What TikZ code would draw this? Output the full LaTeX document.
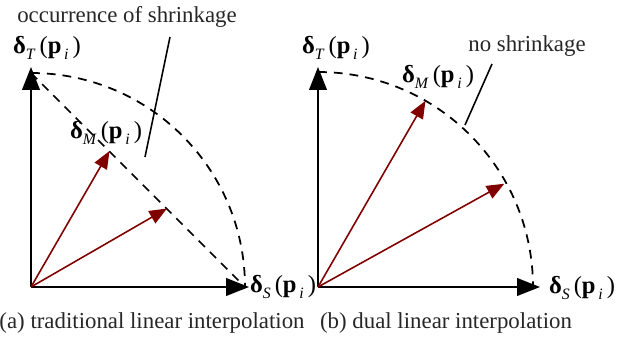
\documentclass[tikz,border=0pt]{standalone}
\usepackage{fontspec}
\setmainfont{Liberation Serif}
\usepackage{tikz}
\usetikzlibrary{arrows.meta,positioning,calc}
\definecolor{vecred}{RGB}{128,0,0}

% label of a displacement vector
\newcommand{\dvec}[1]{\textbf{δ}\raisebox{-0.45ex}{\fontsize{9}{9}\selectfont\textit{#1}}\,(\textbf{p}\raisebox{-0.45ex}{\fontsize{9}{9}\selectfont\,\textit{i}}\,)}

\begin{document}
\begin{tikzpicture}[
	x=0.02cm, y=0.02cm,
	% Styles
	axis/.style={
		-{Triangle[length=13pt,width=10pt]},
		line width=1.1pt,
		black
	},
	vector/.style={
		-{Triangle[length=10pt,width=8pt]},
		line width=0.9pt,
		color=vecred
	},
	guide/.style={
		dashed,
		dash pattern=on 5pt off 4pt,
		line width=1pt
	},
	pointer/.style={
		line width=0.9pt
	},
	veclabel/.style={
		font=\fontsize{14}{16}\selectfont,
		inner sep=0pt
	},
	caption/.style={
		font=\fontsize{13}{15}\selectfont,
		text=black!85,
		inner sep=0pt
	}
	]
	
	\useasboundingbox (0,0) rectangle (629,338);
	
	% (a) traditional linear interpolation
	\coordinate (oa) at (31,51);
	\coordinate (ta) at (31,271);
	\coordinate (sa) at (249,51);
	\coordinate (arcta) at (31,265);
	\coordinate (arcsa) at (245,51);
	\draw[guide] (arcta) arc (90:0:214);
	\draw[guide] (arcta) -- (arcsa);
	\draw[axis] (oa) -- (ta);
	\draw[axis] (oa) -- (sa);
	\coordinate (ma) at ($(oa)+(60:157)$);
	\coordinate (na) at ($(oa)+(30:157)$);
	\draw[vector] (oa) -- (ma);
	\draw[vector] (oa) -- (na);
	
	\node[veclabel] (dta) at (47,290) {\dvec{T}};
	\node[veclabel] (dsa) at (283,51) {\dvec{S}};
	\node[veclabel] (dma) at (106,205) {\dvec{M}};
	
	\node[caption] (shrink) at (127,321) {occurrence of shrinkage};
	\coordinate (shrinkend) at (145,181);
	\draw[pointer] (170,301) -- (shrinkend);
	
	\node[caption] (capa) at (152,15) {(a) traditional linear interpolation};
	
	% (b) dual linear interpolation
	\coordinate (ob) at (318,51);
	\coordinate (tb) at (318,271);
	\coordinate (sb) at (540,51);
	\coordinate (arctb) at (318,266);
	\draw[guide] (arctb) arc (90:0:215);
	\draw[axis] (ob) -- (tb);
	\draw[axis] (ob) -- (sb);
	\coordinate (mb) at ($(ob)+(60:215)$);
	\coordinate (nb) at ($(ob)+(29:213)$);
	\draw[vector] (ob) -- (mb);
	\draw[vector] (ob) -- (nb);
	
	\node[veclabel] (dtb) at (336,290) {\dvec{T}};
	\node[veclabel] (dsb) at (582,50) {\dvec{S}};
	\node[veclabel] (dmb) at (438,261) {\dvec{M}};
	
	\node[caption] (noshrink) at (527,292) {no shrinkage};
	\coordinate (noshrinkend) at (465,213);
	\draw[pointer] (492,274) -- (noshrinkend);
	
	\node[caption] (capb) at (446,15) {(b) dual linear interpolation};
	
\end{tikzpicture}
\end{document}
